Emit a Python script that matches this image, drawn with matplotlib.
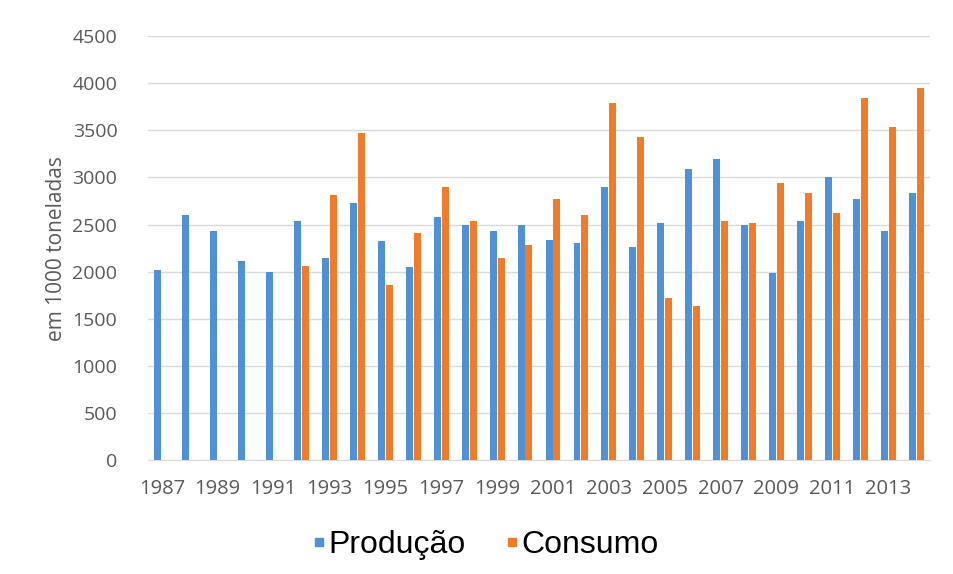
import matplotlib.pyplot as plt
from matplotlib.lines import Line2D
import numpy as np

years = list(range(1987, 2015))
producao = [2020, 2600, 2430, 2110, 2000, 2535, 2150, 2730, 2320, 2045,
            2580, 2500, 2430, 2500, 2340, 2305, 2895, 2260, 2515, 3090,
            3200, 2500, 1985, 2535, 3005, 2775, 2430, 2840]
consumo = [None, None, None, None, None, 2065, 2810, 3475, 1855, 2410,
           2895, 2535, 2150, 2280, 2775, 2600, 3795, 3430, 1725, 1640,
           2535, 2515, 2945, 2840, 2625, 3840, 3540, 3945]

blue = '#4f91d2'
orange = '#ef7b2c'
grey = '#595959'

fig = plt.figure(figsize=(9.54, 5.74), dpi=100)
ax = fig.add_axes([0.155, 0.1986, 0.82, 0.7384])

x = np.arange(len(years))
w = 0.25
ax.bar(x - 0.14, producao, width=w, color=blue, zorder=3)
cx = [i for i, v in zip(x, consumo) if v is not None]
cv = [v for v in consumo if v is not None]
ax.bar(np.array(cx) + 0.14, cv, width=w, color=orange, zorder=3)

ax.set_xlim(-0.5, len(years) - 0.5)
ax.set_ylim(0, 4500)
ax.set_yticks(range(0, 4501, 500))
ax.grid(axis='y', color='#d9d9d9', linewidth=1, zorder=0)
for s in ['top', 'right', 'left']:
    ax.spines[s].set_visible(False)
ax.spines['bottom'].set_color('#d9d9d9')
ax.tick_params(axis='both', length=0, colors=grey)
ax.tick_params(axis='y', labelsize=14, pad=22)
ax.tick_params(axis='x', labelsize=14.5, pad=14)
for t in ax.get_yticklabels():
    t.set_fontfamily('Open Sans')

ax.set_xticks(x[::2])
ax.set_xticklabels([str(y) for y in years[::2]], fontfamily='Open Sans')

ax.set_ylabel('em 1000 toneladas', fontsize=15, color=grey,
              fontfamily='Open Sans', labelpad=4)

# small square swatches in the legend
handles = [Line2D([], [], linestyle='none', marker='s', markersize=6,
                  color=c, label=l)
           for c, l in [(blue, 'Produção'), (orange, 'Consumo')]]
fig.legend(handles=handles, loc='center', bbox_to_anchor=(0.51, 0.05), ncol=2,
           frameon=False, handlelength=0.3, handletextpad=0.15,
           columnspacing=1.3, prop={'family': 'Liberation Sans', 'size': 23})

fig.savefig('out.png', dpi=100, facecolor='white')
